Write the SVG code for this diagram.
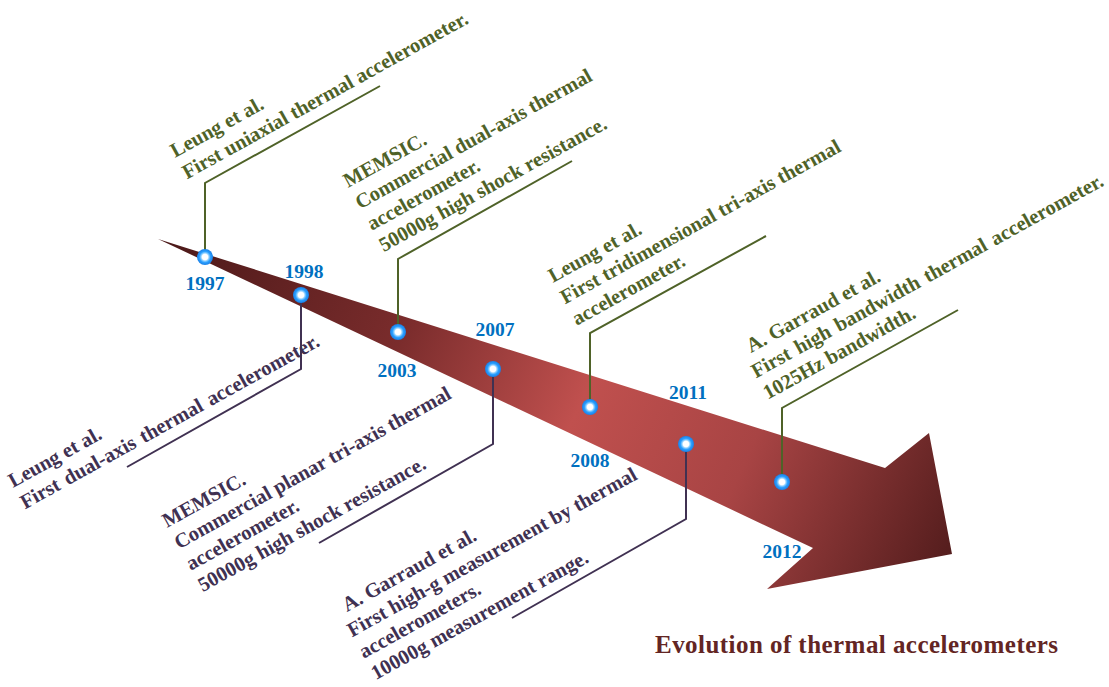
<svg xmlns="http://www.w3.org/2000/svg" width="1109" height="687" viewBox="0 0 1109 687">
<style>
.g{fill:#4f6228;font-family:"Liberation Serif","Times New Roman",serif;font-weight:bold;font-size:20.5px}
.p{fill:#403152;font-family:"Liberation Serif","Times New Roman",serif;font-weight:bold;font-size:20.5px}
.yr{fill:#0070c0;font-family:"Liberation Serif","Times New Roman",serif;font-weight:bold;font-size:19.5px;text-anchor:middle}
.lg{fill:none;stroke:#4f6228;stroke-width:2}
.lp{fill:none;stroke:#403152;stroke-width:2}
.title{fill:#632523;font-family:"Liberation Serif","Times New Roman",serif;font-weight:bold;font-size:25px}
</style>
<defs>
<linearGradient id="ag" gradientUnits="userSpaceOnUse" x1="158" y1="239" x2="950" y2="600">
<stop offset="0" stop-color="#4a1818"/>
<stop offset="0.3" stop-color="#7a2c2c"/>
<stop offset="0.52" stop-color="#c0504e"/>
<stop offset="0.72" stop-color="#a84444"/>
<stop offset="1" stop-color="#4e1a1a"/>
</linearGradient>
<radialGradient id="dg">
<stop offset="0" stop-color="#ffffff"/>
<stop offset="0.35" stop-color="#ffffff"/>
<stop offset="0.5" stop-color="#8fd0ff"/>
<stop offset="0.7" stop-color="#2a9fff"/>
<stop offset="1" stop-color="#1a80e6"/>
</radialGradient>
<circle id="dot" r="8" fill="url(#dg)"/>
</defs>
<rect width="1109" height="687" fill="#ffffff"/>
<g id="arrow">
<polygon points="158,239 885,468 929,433 952,554 767,589 813,548" fill="url(#ag)"/>
</g>
<g id="connectors">
<polyline class="lg" points="205,257 205,183 380,86"/>
<polyline class="lg" points="398,332 398,259 572,161"/>
<polyline class="lg" points="590,407 590,333 766,236"/>
<polyline class="lg" points="782,482 782,408 958,310"/>
<polyline class="lp" points="301,295 301,369 127,467"/>
<polyline class="lp" points="493,369 493,444 319,543"/>
<polyline class="lp" points="686,444 686,519 512,618"/>
</g>
<g id="n1997">
<use href="#dot" x="205" y="257"/>
<text class="yr" x="205" y="290">1997</text>
<text class="g" transform="translate(175,158) rotate(-29)"><tspan x="0" y="0">Leung et al.</tspan><tspan x="0" y="24.5">First uniaxial thermal accelerometer.</tspan></text>
</g>
<g id="n1998">
<use href="#dot" x="301" y="295"/>
<text class="yr" x="304" y="278">1998</text>
<text class="p" transform="translate(13,488) rotate(-29)"><tspan x="0" y="0">Leung et al.</tspan><tspan x="0" y="24.5" word-spacing="2">First dual-axis thermal accelerometer.</tspan></text>
</g>
<g id="n2003a">
<use href="#dot" x="398" y="332"/>
<text class="yr" x="397" y="377">2003</text>
<text class="g" transform="translate(348,188) rotate(-29)"><tspan x="0" y="0">MEMSIC.</tspan><tspan x="0" y="24.5">Commercial dual-axis thermal</tspan><tspan x="0" y="49">accelerometer.</tspan><tspan x="0" y="73.5">50000g high shock resistance.</tspan></text>
</g>
<g id="n2003b">
<use href="#dot" x="493" y="369"/>
<text class="yr" x="495" y="336">2007</text>
<text class="p" transform="translate(167,528) rotate(-29)"><tspan x="0" y="0">MEMSIC.</tspan><tspan x="0" y="24.5">Commercial planar tri-axis thermal</tspan><tspan x="0" y="49">accelerometer.</tspan><tspan x="0" y="73.5">50000g high shock resistance.</tspan></text>
</g>
<g id="n2008">
<use href="#dot" x="590" y="407"/>
<text class="yr" x="590" y="467">2008</text>
<text class="g" transform="translate(553,283) rotate(-29)"><tspan x="0" y="0">Leung et al.</tspan><tspan x="0" y="24.5">First tridimensional tri-axis thermal</tspan><tspan x="0" y="49">accelerometer.</tspan></text>
</g>
<g id="n2011">
<use href="#dot" x="686" y="444"/>
<text class="yr" x="688" y="399">2011</text>
<text class="p" transform="translate(340,616) rotate(-29)"><tspan x="8" y="0">A. Garraud et al.</tspan><tspan x="0" y="24.5">First high-g measurement by thermal</tspan><tspan x="0" y="49">accelerometers.</tspan><tspan x="0" y="73.5">10000g measurement range.</tspan></text>
</g>
<g id="n2012">
<use href="#dot" x="782" y="482"/>
<text class="yr" x="782" y="558">2012</text>
<text class="g" transform="translate(744,357) rotate(-29)"><tspan x="8" y="0">A. Garraud et al.</tspan><tspan x="0" y="24.5" word-spacing="2">First high bandwidth thermal accelerometer.</tspan><tspan x="0" y="49">1025Hz bandwidth.</tspan></text>
</g>
<g id="title">
<text class="title" x="655" y="653" textLength="403" lengthAdjust="spacing">Evolution of thermal accelerometers</text>
</g>
</svg>
